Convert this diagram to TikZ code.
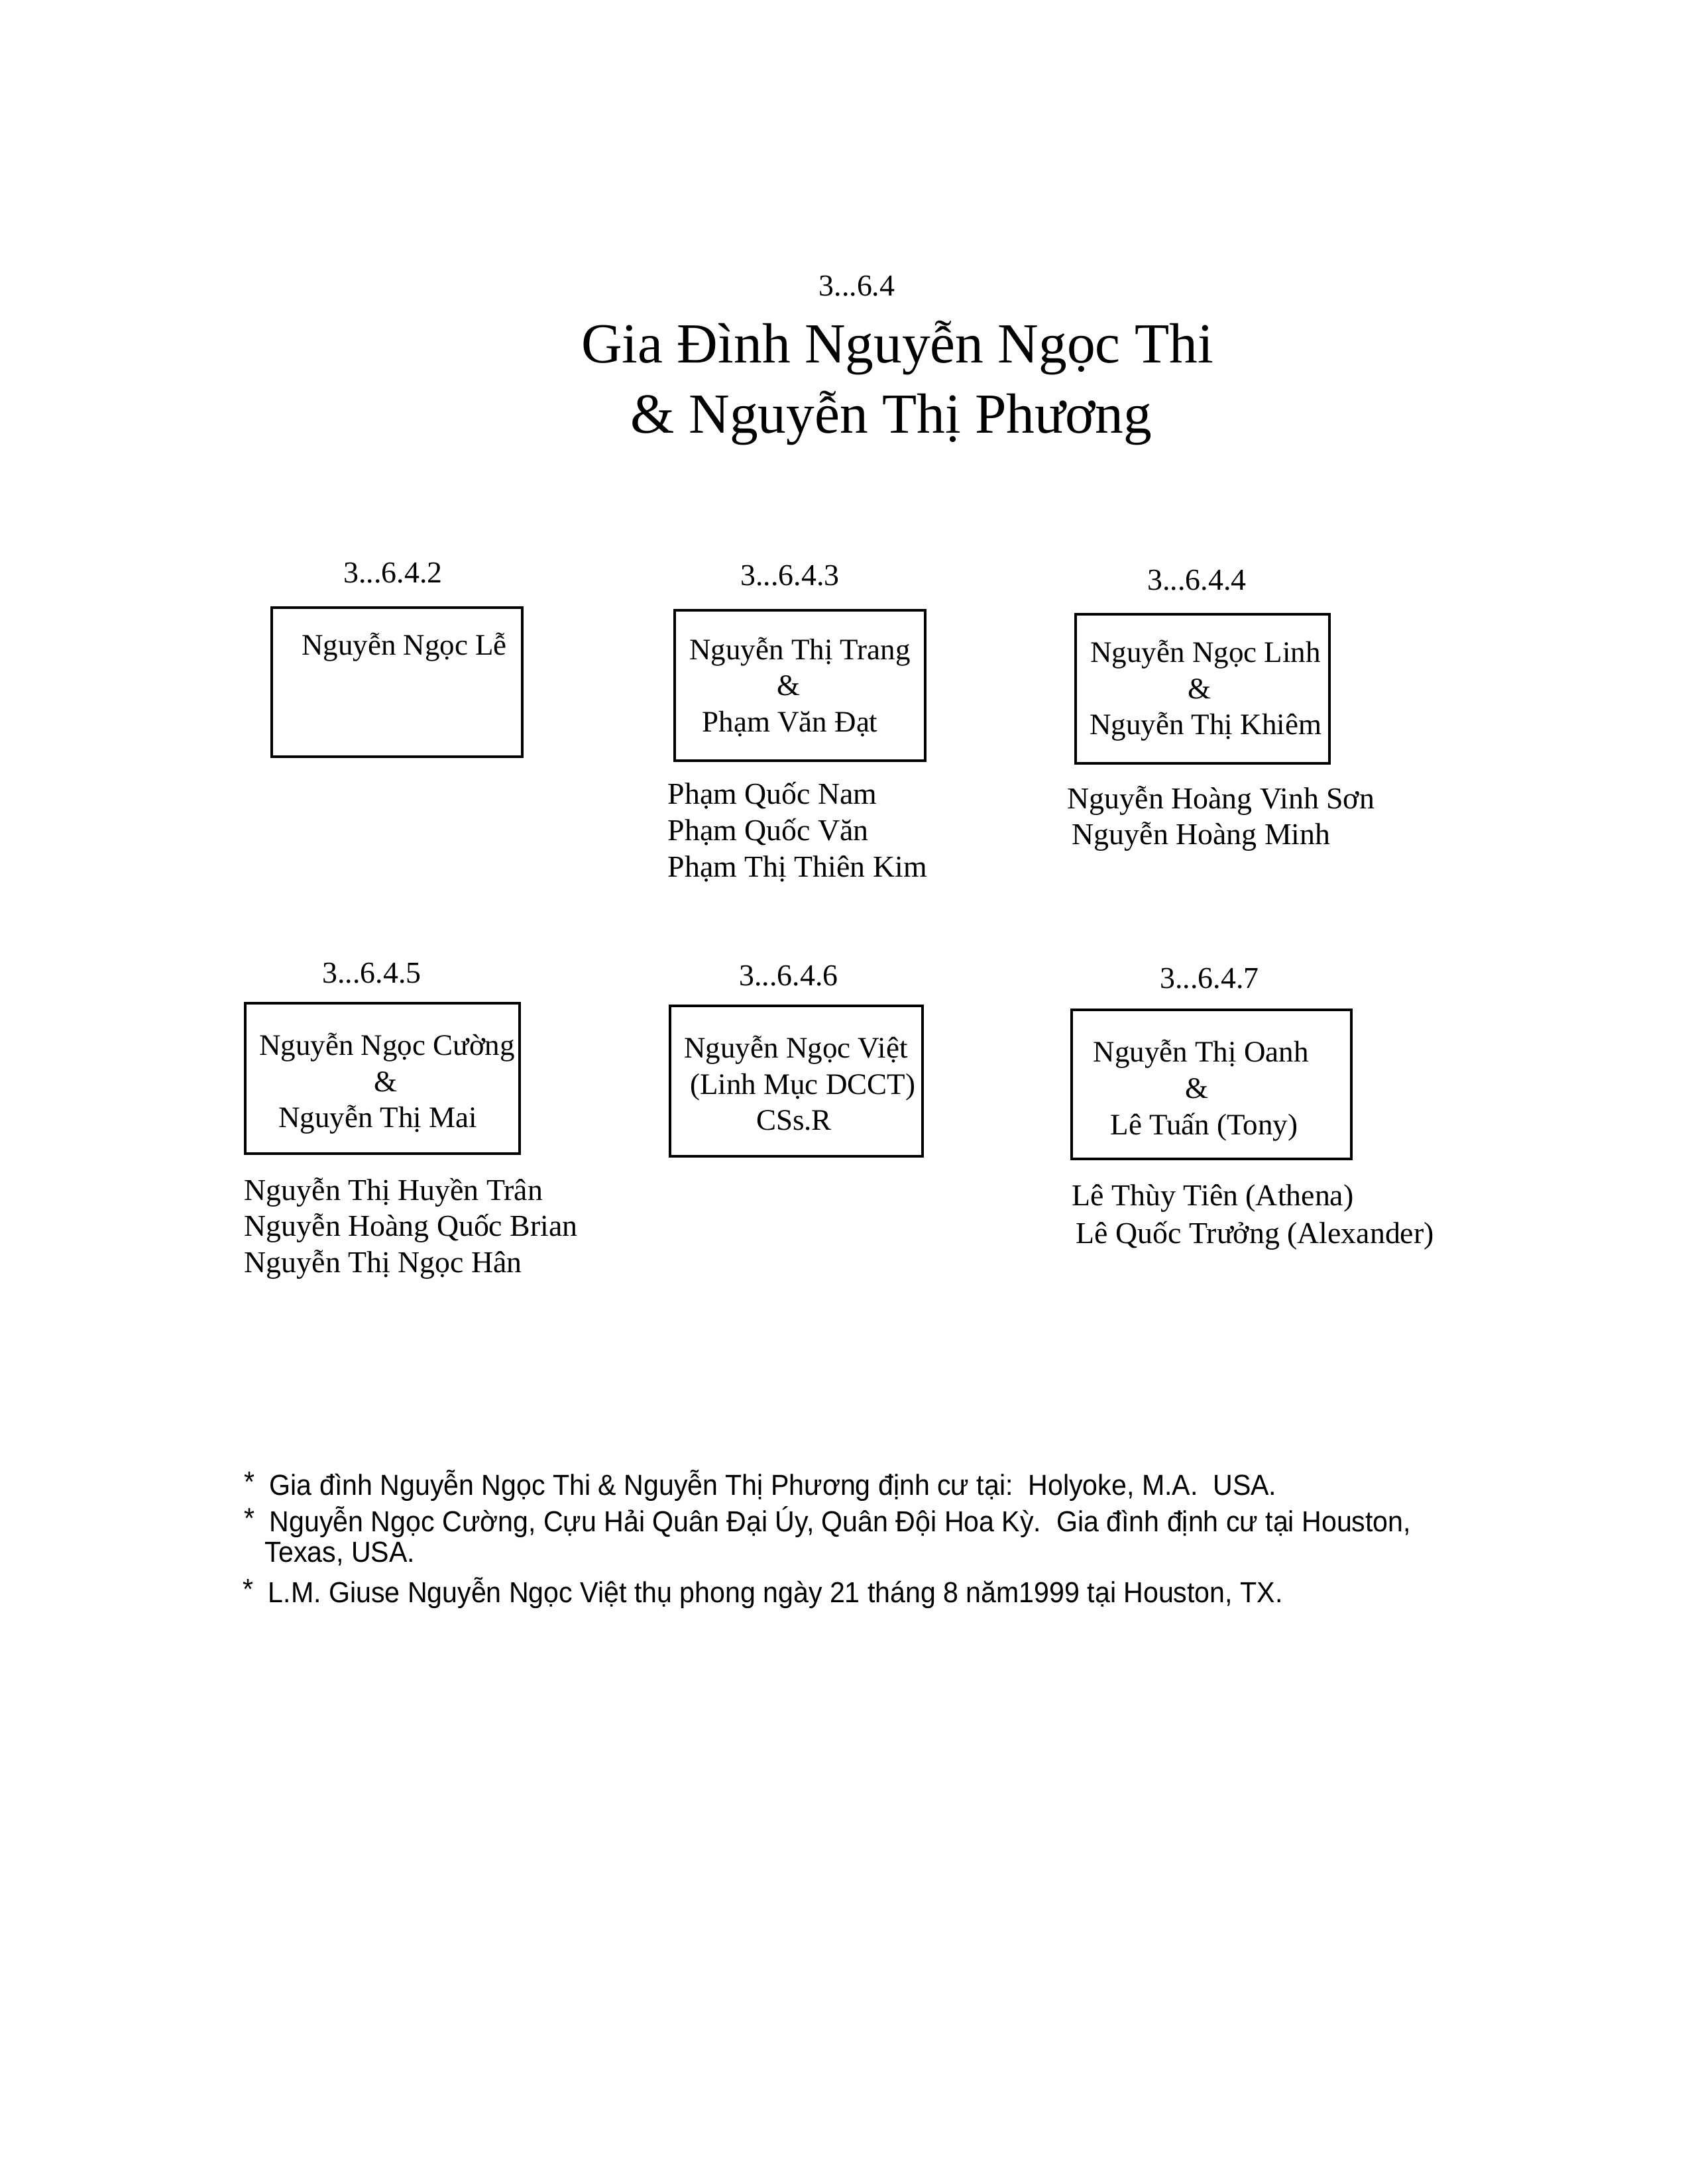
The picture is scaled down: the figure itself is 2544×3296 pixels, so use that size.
\documentclass[tikz,border=0pt]{standalone}
\usepackage{fontspec}
\setmainfont{Liberation Serif}
\newfontfamily\notefont[FakeStretch=0.94]{Liberation Sans}
\tikzset{
  famlabel/.style={font=\fontsize{11}{13}\selectfont, anchor=mid, inner sep=0pt, yshift=-1.5pt},
  boxtxt/.style={font=\fontsize{10.8}{13}\selectfont, anchor=mid, inner sep=0pt, yshift=-1.5pt},
  kid/.style={font=\fontsize{11}{13}\selectfont, anchor=mid west, inner sep=0pt, yshift=-1.5pt},
  fambox/.style={draw, line width=1.1pt, inner sep=0pt},
  note/.style={font=\notefont\fontsize{10.5}{12}\selectfont, anchor=mid west, inner sep=0pt, yshift=-1.5pt},
  titletxt/.style={font=\fontsize{20.5}{24}\selectfont, anchor=mid, inner sep=0pt}
}
\begin{document}
\begin{tikzpicture}[x=0.24pt,y=-0.24pt]
\useasboundingbox (0,0) rectangle (2544,3296);
\fill[white] (0,0) rectangle (2544,3296);

% title
\node[famlabel] (tnum) at (1293,431) {3...6.4};
\node[titletxt] (t1) at (1354,538) {Gia Đình Nguyễn Ngọc Thi};
\node[titletxt] (t2) at (1345,644) {\& Nguyễn Thị Phương};

% box 3.6.4.2
\node[famlabel] (l2) at (593,864) {3...6.4.2};
\draw[fambox] (410,917) rectangle (788,1142);
\node[boxtxt] (b2a) at (610,973) {Nguyễn Ngọc Lễ};

% box 3.6.4.3
\node[famlabel] (l3) at (1192,868) {3...6.4.3};
\draw[fambox] (1018,921) rectangle (1396,1148);
\node[boxtxt] (b3a) at (1207,980) {Nguyễn Thị Trang};
\node[boxtxt] (b3b) at (1190,1034) {\&};
\node[boxtxt] (b3c) at (1192,1089) {Phạm Văn Đạt};
\node[kid] (k3a) at (1007,1198) {Phạm Quốc Nam};
\node[kid] (k3b) at (1007,1253) {Phạm Quốc Văn};
\node[kid] (k3c) at (1007,1308) {Phạm Thị Thiên Kim};

% box 3.6.4.4
\node[famlabel] (l4) at (1806,875) {3...6.4.4};
\draw[fambox] (1623,927) rectangle (2006,1152);
\node[boxtxt] (b4a) at (1819,984) {Nguyễn Ngọc Linh};
\node[boxtxt] (b4b) at (1810,1039) {\&};
\node[boxtxt] (b4c) at (1819,1093) {Nguyễn Thị Khiêm};
\node[kid] (k4a) at (1610,1205) {Nguyễn Hoàng Vinh Sơn};
\node[kid] (k4b) at (1617,1259) {Nguyễn Hoàng Minh};

% box 3.6.4.5
\node[famlabel] (l5) at (561,1468) {3...6.4.5};
\draw[fambox] (370,1514) rectangle (784,1741);
\node[boxtxt] (b5a) at (584,1577) {Nguyễn Ngọc Cường};
\node[boxtxt] (b5b) at (582,1632) {\&};
\node[boxtxt] (b5c) at (570,1686) {Nguyễn Thị Mai};
\node[kid] (k5a) at (368,1796) {Nguyễn Thị Huyền Trân};
\node[kid] (k5b) at (368,1850) {Nguyễn Hoàng Quốc Brian};
\node[kid] (k5c) at (368,1905) {Nguyễn Thị Ngọc Hân};

% box 3.6.4.6
\node[famlabel] (l6) at (1190,1472) {3...6.4.6};
\draw[fambox] (1011,1518) rectangle (1392,1745);
\node[boxtxt] (b6a) at (1201,1581) {Nguyễn Ngọc Việt};
\node[boxtxt] (b6b) at (1211,1636) {(Linh Mục DCCT)};
\node[boxtxt] (b6c) at (1198,1690) {CSs.R};

% box 3.6.4.7
\node[famlabel] (l7) at (1825,1476) {3...6.4.7};
\draw[fambox] (1617,1524) rectangle (2039,1749);
\node[boxtxt] (b7a) at (1812,1587) {Nguyễn Thị Oanh};
\node[boxtxt] (b7b) at (1806,1642) {\&};
\node[boxtxt] (b7c) at (1817,1697) {Lê Tuấn (Tony)};
\node[kid] (k7a) at (1617,1804) {Lê Thùy Tiên (Athena)};
\node[kid] (k7b) at (1623,1861) {Lê Quốc Trưởng (Alexander)};

% footnotes
\node[note] (s1) at (368,2236) {*};
\node[note] (n1) at (406,2241) {Gia đình Nguyễn Ngọc Thi \& Nguyễn Thị Phương định cư tại:\ \ Holyoke, M.A.\ \ USA.};
\node[note] (s2) at (368,2291) {*};
\node[note] (n2) at (406,2296) {Nguyễn Ngọc Cường, Cựu Hải Quân Đại Úy, Quân Đội Hoa Kỳ.\ \ Gia đình định cư tại Houston,};
\node[note] (n3) at (399,2342) {Texas, USA.};
\node[note] (s4) at (366,2398) {*};
\node[note] (n4) at (404,2403) {L.M. Giuse Nguyễn Ngọc Việt thụ phong ngày 21 tháng 8 năm1999 tại Houston, TX.};
\end{tikzpicture}
\end{document}
